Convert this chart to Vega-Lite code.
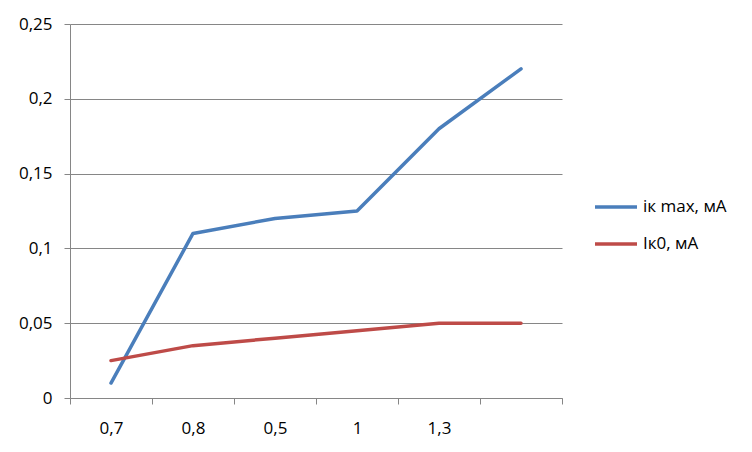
{
  "$schema": "https://vega.github.io/schema/vega-lite/v6.json",
  "autosize": {"type": "none"},
  "padding": {"left": 70, "top": 24, "right": 190, "bottom": 54},
  "width": 492,
  "height": 374,
  "background": "white",
  "config": {
    "view": {"stroke": null},
    "font": "Open Sans",
    "axis": {"labelFont": "Open Sans", "labelFontSize": 17, "labelColor": "#000000", "gridColor": "#868686", "domainColor": "#868686", "tickColor": "#868686", "title": null}
  },
  "data": {"values": [
    {"cat": "0,7", "series": "iк max, мА", "value": 0.01},
    {"cat": "0,8", "series": "iк max, мА", "value": 0.11},
    {"cat": "0,5", "series": "iк max, мА", "value": 0.12},
    {"cat": "1", "series": "iк max, мА", "value": 0.125},
    {"cat": "1,3", "series": "iк max, мА", "value": 0.18},
    {"cat": "_6", "series": "iк max, мА", "value": 0.22},
    {"cat": "0,7", "series": "Iк0, мА", "value": 0.025},
    {"cat": "0,8", "series": "Iк0, мА", "value": 0.035},
    {"cat": "0,5", "series": "Iк0, мА", "value": 0.04},
    {"cat": "1", "series": "Iк0, мА", "value": 0.045},
    {"cat": "1,3", "series": "Iк0, мА", "value": 0.05},
    {"cat": "_6", "series": "Iк0, мА", "value": 0.05}
  ]},
  "mark": {"type": "line", "strokeWidth": 3.5, "strokeCap": "round", "strokeJoin": "round"},
  "encoding": {
    "x": {
      "field": "cat", "type": "ordinal",
      "sort": ["0,7", "0,8", "0,5", "1", "1,3", "_6"],
      "scale": {"type": "band", "paddingInner": 0, "paddingOuter": 0},
      "axis": {"labelAngle": 0, "labelExpr": "datum.value == '_6' ? '' : datum.value", "tickBand": "extent", "tickSize": 6, "labelPadding": 16, "grid": false, "domainWidth": 1}
    },
    "y": {
      "field": "value", "type": "quantitative",
      "scale": {"domain": [0, 0.25], "nice": false},
      "axis": {"values": [0, 0.05, 0.1, 0.15, 0.2, 0.25], "labelExpr": "replace(format(datum.value, ''), '.', ',')", "tickSize": 6, "labelPadding": 12, "grid": true, "gridWidth": 1}
    },
    "color": {
      "field": "series", "type": "nominal",
      "sort": ["iк max, мА", "Iк0, мА"],
      "scale": {"domain": ["iк max, мА", "Iк0, мА"], "range": ["#4A7EBB", "#BE4B48"]},
      "legend": {
        "title": null, "orient": "none", "legendX": 523, "legendY": 160,
        "symbolType": "stroke", "symbolSize": 1764, "symbolStrokeWidth": 3.5,
        "labelFont": "Open Sans", "labelFontSize": 17, "labelColor": "#000000",
        "labelOffset": 4, "rowPadding": 6
      }
    }
  }
}
